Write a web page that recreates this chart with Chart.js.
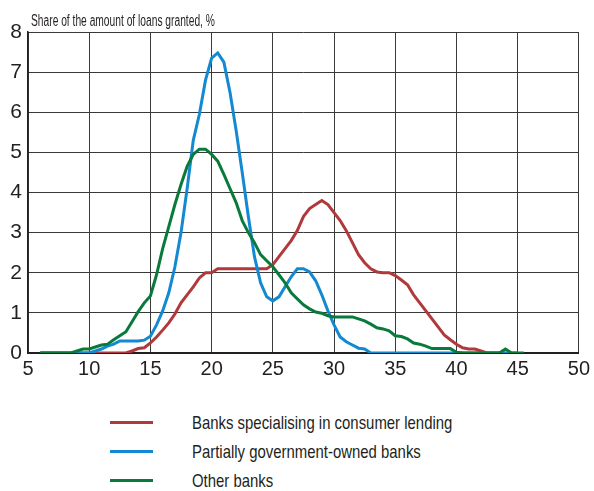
<!DOCTYPE html>
<html>
<head>
<meta charset="utf-8">
<script src="https://cdn.jsdelivr.net/npm/chart.js@4.4.1/dist/chart.umd.min.js"></script>
<style>
  html, body { margin: 0; padding: 0; background: #fff; }
  body { width: 594px; height: 491px; position: relative; overflow: hidden;
         font-family: 'Liberation Sans', Arial, sans-serif; }
  #wrap { position: absolute; left: 0; top: 0; width: 594px; height: 385px; }
  #legend { position: absolute; left: 110px; top: 408px; }
  .item { height: 29px; display: flex; align-items: center; }
  .swatch { width: 43px; height: 3px; margin-right: 39px; flex: none; }
  .label { font-size: 19px; color: #231f20; white-space: nowrap;
           transform: scaleX(0.785); transform-origin: left center; }
</style>
</head>
<body>
<div id="wrap"><canvas id="chart" width="594" height="385"></canvas></div>
<div id="legend"></div>
<script>
// x values (interest rate step), shared by all three series
const xValues = [6, 6.5, 7, 7.5, 8, 8.5, 9, 9.5, 10, 10.5, 11, 11.5, 12, 12.5, 13, 13.5, 14, 14.5,
    15, 15.5, 16, 16.5, 17, 17.5, 18, 18.5, 19, 19.5, 20, 20.5, 21, 21.5, 22, 22.5, 23, 23.5,
    24, 24.5, 25, 25.5, 26, 26.5, 27, 27.5, 28, 28.5, 29, 29.5, 30, 30.5, 31, 31.5, 32, 32.5,
    33, 33.5, 34, 34.5, 35, 35.5, 36, 36.5, 37, 37.5, 38, 38.5, 39, 39.5, 40, 40.5, 41, 41.5,
    42, 42.5, 43, 43.5, 44, 44.5, 45, 45.5];

const consumerBanks = [0, 0, 0, 0, 0, 0, 0, 0, 0, 0, 0, 0, 0, 0, 0, 0.05, 0.11, 0.13,
    0.25, 0.4, 0.57, 0.75, 0.97, 1.25, 1.45, 1.65, 1.87, 2.0, 2.0, 2.1, 2.1, 2.1, 2.1, 2.1, 2.1, 2.1,
    2.1, 2.1, 2.2, 2.4, 2.6, 2.8, 3.05, 3.4, 3.6, 3.7, 3.8, 3.7, 3.5, 3.3, 3.05, 2.75, 2.45, 2.25,
    2.1, 2.02, 2.0, 2.0, 1.93, 1.82, 1.7, 1.45, 1.25, 1.05, 0.85, 0.65, 0.45, 0.33, 0.22, 0.13, 0.1, 0.1,
    0.05, 0, 0, 0, 0, null, null, null];

const governmentBanks = [0, 0, 0, 0, 0, 0, 0, 0, 0, 0.05, 0.1, 0.17, 0.22, 0.3, 0.3, 0.3, 0.3, 0.32,
    0.42, 0.7, 1.05, 1.5, 2.15, 3.0, 4.1, 5.3, 5.95, 6.8, 7.35, 7.48, 7.25, 6.5, 5.55, 4.5, 3.4, 2.4,
    1.75, 1.4, 1.3, 1.4, 1.65, 1.9, 2.1, 2.1, 2.02, 1.8, 1.45, 1.05, 0.7, 0.4, 0.28, 0.2, 0.12, 0.1,
    0, 0, 0, 0, 0, 0, 0, 0, 0, 0, 0, 0, 0, 0, 0, 0, 0, 0,
    0, 0, 0, 0, 0, 0, 0, null];

const otherBanks = [0, 0, 0, 0, 0, 0, 0.05, 0.1, 0.1, 0.15, 0.2, 0.22, 0.33, 0.43, 0.53, 0.78, 1.03, 1.25,
    1.42, 1.95, 2.6, 3.15, 3.7, 4.2, 4.65, 4.95, 5.08, 5.08, 4.95, 4.78, 4.45, 4.1, 3.75, 3.3, 3.0, 2.75,
    2.45, 2.3, 2.15, 1.95, 1.75, 1.5, 1.35, 1.2, 1.1, 1.02, 0.99, 0.93, 0.9, 0.9, 0.9, 0.9, 0.85, 0.8,
    0.72, 0.63, 0.6, 0.55, 0.43, 0.41, 0.35, 0.25, 0.22, 0.17, 0.11, 0.11, 0.11, 0.11, 0.02, 0, 0, 0,
    0, 0, 0, 0, 0.1, 0, 0, 0];

const seriesNames = ['Banks specialising in consumer lending', 'Partially government-owned banks', 'Other banks'];
const seriesColors = ['#b0393b', '#1389d2', '#0a7a3c'];
const yTicks = [0, 1, 2, 3, 4, 5, 6, 7, 8];
const xTicks = [5, 10, 15, 20, 25, 30, 35, 40, 45, 50];
const yTitle = 'Share of the amount of loans granted, %';

const FONT = "'Liberation Sans', Arial, sans-serif";

function toPoints(values) {
    return xValues.map((x, i) => ({ x: x, y: values[i] }));
}

const seriesData = [consumerBanks, governmentBanks, otherBanks];
const datasets = seriesData.map((values, i) => ({
    label: seriesNames[i],
    data: toPoints(values),
    borderColor: seriesColors[i],
    borderWidth: 3,
    pointRadius: 0,
    tension: 0,
    fill: false,
    spanGaps: false,
    order: 3 - i // green on top, red at the bottom
}));

// draws the y axis title above the plot, left aligned, squeezed to a narrow look
const yTitlePlugin = {
    id: 'yTitle',
    afterDraw(chart) {
        const ctx = chart.ctx;
        ctx.save();
        ctx.font = '16px ' + FONT;
        ctx.fillStyle = '#231f20';
        ctx.textBaseline = 'alphabetic';
        ctx.textAlign = 'left';
        ctx.translate(chart.chartArea.left + 3, chart.chartArea.top - 6);
        ctx.scale(0.64, 1);
        ctx.fillText(yTitle, 0, 0);
        ctx.restore();
    }
};

new Chart(document.getElementById('chart').getContext('2d'), {
    type: 'line',
    data: { datasets: datasets },
    options: {
        responsive: false,
        animation: false,
        layout: { padding: { top: 32, right: 13, bottom: 2, left: 0 } },
        plugins: {
            legend: { display: false },
            tooltip: { enabled: false }
        },
        scales: {
            x: {
                type: 'linear',
                min: 5,
                max: 50,
                afterBuildTicks: (scale) => { scale.ticks = xTicks.map(v => ({ value: v })); },
                afterFit: (scale) => { scale.height = 30; },
                ticks: { color: '#231f20', font: { family: FONT, size: 20 }, padding: 4, maxRotation: 0 },
                grid: { color: '#3a3a3a', lineWidth: 1, drawTicks: false },
                border: { color: '#231f20', width: 2 }
            },
            y: {
                min: 0,
                max: 8,
                afterBuildTicks: (scale) => { scale.ticks = yTicks.map(v => ({ value: v })); },
                afterFit: (scale) => { scale.width = 28; },
                ticks: { color: '#231f20', font: { family: FONT, size: 21 }, padding: 6 },
                grid: { color: '#3a3a3a', lineWidth: 1, drawTicks: false },
                border: { color: '#231f20', width: 1.5 }
            }
        }
    },
    plugins: [yTitlePlugin]
});

// legend below the chart
const legend = document.getElementById('legend');
seriesNames.forEach((name, i) => {
    const item = document.createElement('div');
    item.className = 'item';
    item.innerHTML = `<div class="swatch" style="background:${seriesColors[i]}"></div><div class="label">${name}</div>`;
    legend.appendChild(item);
});
</script>
</body>
</html>
